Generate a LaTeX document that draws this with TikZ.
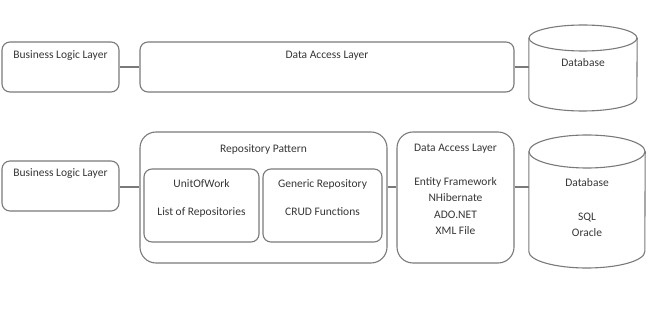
\documentclass[tikz,border=0pt]{standalone}
\usepackage{fontspec}
\setmainfont{Carlito}
\definecolor{linegray}{HTML}{7A7A7A}
\definecolor{txtgray}{HTML}{363636}
\begin{document}
\begin{tikzpicture}[x=1pt,y=-1pt,
  box/.style={draw=linegray,line width=1.1pt,rounded corners=8pt,inner sep=0pt},
  bigbox/.style={draw=linegray,line width=1.1pt,rounded corners=16pt,inner sep=0pt},
  txt/.style={text=txtgray,font=\fontsize{11.5}{16.3}\selectfont,inner sep=0pt,align=center},
  conn/.style={draw=linegray,line width=1.1pt},
  cyl/.style={draw=linegray,line width=1.1pt}]
\useasboundingbox (0,0) rectangle (650,312);
% top row
\node[box,minimum width=117pt,minimum height=50pt] (bll1) at (60.5,67) {};
\node[box,minimum width=374pt,minimum height=50pt] (dal1) at (327,67) {};
\node[minimum width=108pt,minimum height=86pt,inner sep=0pt] (db1) at (583,68) {};
\draw[cyl] (db1.west |- 0,38) -- (db1.west |- 0,98) arc[start angle=180,end angle=360,x radius=54pt,y radius=13pt] -- (db1.east |- 0,38);
\draw[cyl] (583,38) ellipse[x radius=54pt,y radius=13pt];
\node[txt] (t-bll1) at (60.5,56) {Business Logic Layer};
\node[txt] (t-dal1) at (327,56) {Data Access Layer};
\node[txt] (t-db1) at (583,63) {Database};
\draw[conn] (bll1.east) -- (dal1.west);
\draw[conn] (dal1.east) -- (dal1.east -| db1.west);
% bottom row
\node[box,minimum width=117pt,minimum height=50pt] (bll2) at (60.5,186) {};
\node[bigbox,minimum width=247pt,minimum height=131pt] (rp) at (263.5,197.5) {};
\node[box,minimum width=115pt,minimum height=73pt] (uow) at (201.5,205.5) {};
\node[box,minimum width=119pt,minimum height=73pt] (gr) at (322.5,205.5) {};
\node[bigbox,minimum width=117pt,minimum height=131pt] (dal2) at (455.5,197.5) {};
\node[minimum width=116pt,minimum height=133pt,inner sep=0pt] (db2) at (587,201.5) {};
\draw[cyl] (db2.west |- 0,151.5) -- (db2.west |- 0,251.5) arc[start angle=180,end angle=360,x radius=58pt,y radius=16.5pt] -- (db2.east |- 0,151.5);
\draw[cyl] (587,151.5) ellipse[x radius=58pt,y radius=16.5pt];
\node[txt] (t-bll2) at (60.5,174) {Business Logic Layer};
\node[txt] (t-rp) at (263.5,149) {Repository Pattern};
\node[txt] (t-uow) at (201.5,184) {UnitOfWork};
\node[txt] (t-uow2) at (201.5,212) {List of Repositories};
\node[txt] (t-gr) at (322.5,184) {Generic Repository};
\node[txt] (t-gr2) at (322.5,212) {CRUD Functions};
\node[txt] (t-dal2) at (455.5,149) {Data Access Layer};
\node[txt,anchor=north] (t-dal2b) at (455.5,177.5) {Entity Framework\\NHibernate\\ADO.NET\\XML File};
\node[txt] (t-db2) at (587,183) {Database};
\node[txt,anchor=north] (t-db2b) at (587,212.5) {SQL\\Oracle};
\coordinate (cy) at (0,187);
\draw[conn] (cy -| bll2.east) -- (cy -| rp.west);
\draw[conn] (cy -| rp.east) -- (cy -| dal2.west);
\draw[conn] (cy -| dal2.east) -- (cy -| db2.west);
\end{tikzpicture}
\end{document}
